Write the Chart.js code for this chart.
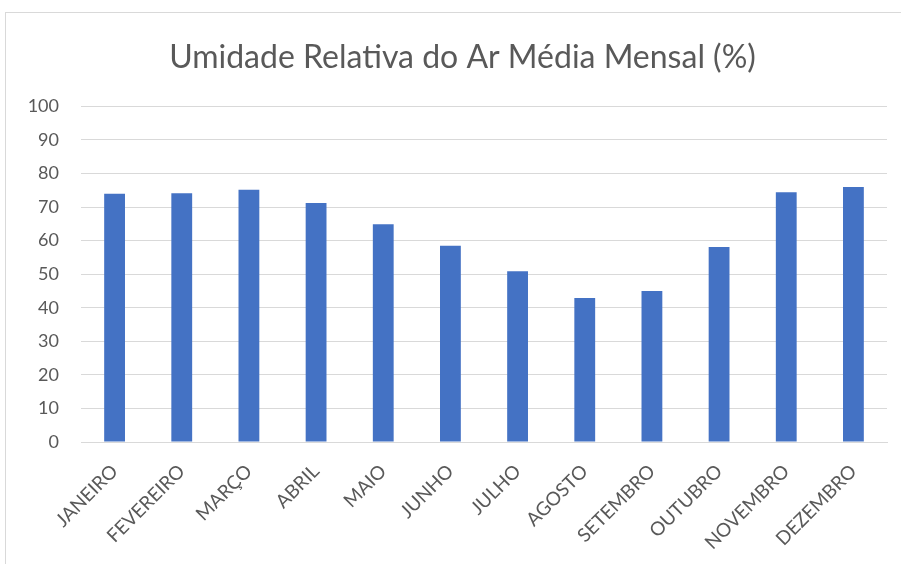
<!DOCTYPE html>
<html>
<head>
<meta charset="utf-8">
<script src="https://cdn.jsdelivr.net/npm/chart.js@4/dist/chart.umd.min.js"></script>
<style>
  html, body { margin: 0; padding: 0; background: #fff; }
  #wrap { position: relative; width: 901px; height: 564px; }
  #frame { position: absolute; left: 5px; top: 12px; width: 900px; height: 560px; border: 1px solid #d9d9d9; box-sizing: border-box; }
  canvas { position: absolute; left: 0; top: 0; }
</style>
</head>
<body>
<div id="wrap">
  <div id="frame"></div>
  <canvas id="myChart" width="901" height="564"></canvas>
</div>
<script>
  const months = ['JANEIRO', 'FEVEREIRO', 'MARÇO', 'ABRIL', 'MAIO', 'JUNHO',
    'JULHO', 'AGOSTO', 'SETEMBRO', 'OUTUBRO', 'NOVEMBRO', 'DEZEMBRO'];
  const humidity = [74, 74.1, 75.2, 71.2, 64.9, 58.5, 50.9, 42.9, 45, 58.1, 74.4, 76];
  const yTicks = [0, 10, 20, 30, 40, 50, 60, 70, 80, 90, 100];

  // shift the title box a bit to the right so it sits centred over the frame
  const titleShift = {
    id: 'titleShift',
    afterLayout: (chart) => {
      if (chart.titleBlock) chart.titleBlock.left += 38;
    }
  };

  const printChart = (labels, data) => {
    const ctx = document.querySelector('#myChart').getContext('2d');
    const chart = new Chart(ctx, {
      type: 'bar',
      data: {
        labels,
        datasets: [
          {
            label: 'Umidade relativa',
            backgroundColor: '#4472C4',
            data,
            barPercentage: 0.31,
            categoryPercentage: 1
          }
        ]
      },
      options: {
        responsive: false,
        animation: false,
        layout: { padding: { top: 0, right: 14, bottom: 0, left: 0 } },
        plugins: {
          legend: { display: false },
          tooltip: { enabled: false },
          title: {
            display: true,
            text: 'Umidade Relativa do Ar Média Mensal (%)',
            color: '#595959',
            font: { family: 'Lato', size: 32, weight: '400' },
            padding: { top: 38, bottom: 30 }
          }
        },
        scales: {
          x: {
            grid: { display: false, drawTicks: false },
            border: { display: true, color: '#d9d9d9' },
            ticks: {
              color: '#595959',
              font: { family: 'Lato', size: 19 },
              maxRotation: 45,
              minRotation: 45,
              padding: 18
            },
            afterFit: (scale) => { scale.height = 122; }
          },
          y: {
            min: 0,
            max: 100,
            border: { display: false },
            grid: { color: '#d9d9d9', drawTicks: false },
            afterBuildTicks: (scale) => { scale.ticks = yTicks.map(v => ({ value: v })); },
            ticks: {
              color: '#595959',
              font: { family: 'Lato', size: 18 },
              padding: 22
            },
            afterFit: (scale) => { scale.width = 81; }
          }
        }
      },
      plugins: [titleShift]
    });
  };

  printChart(months, humidity);
</script>
</body>
</html>
